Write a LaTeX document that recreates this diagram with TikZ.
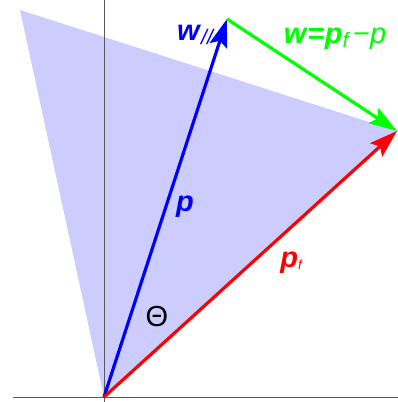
\documentclass[tikz,border=0pt]{standalone}
\usepackage{fontspec}
\setmainfont{Liberation Sans}
\usetikzlibrary{arrows.meta}
\definecolor{fillblue}{rgb}{0.8,0.8,1}
\definecolor{vgreen}{rgb}{0,1,0}
\tikzset{
  vec/.style={line width=3.2pt,-{Stealth[length=28pt,width=18pt,inset=5pt]}},
  lbl/.style={inner sep=0pt,font=\fontsize{29}{29}\selectfont},
}
\begin{document}
\begin{tikzpicture}[x=1pt,y=-1pt]
\useasboundingbox (0,0) rectangle (398,402);
\coordinate (O) at (104,397);
\coordinate (A) at (20,10);
\coordinate (B) at (397,131);
\coordinate (P) at (227,19);
\coordinate (yt) at (104,0);
\coordinate (yb) at (104,402);
\coordinate (xl) at (13,397);
\coordinate (xr) at (398,397);
\fill[fillblue] (O) -- (A) -- (B) -- cycle;
\draw[gray!70!black,line width=0.8pt] (yt) -- (yb);
\draw[gray!70!black,line width=0.8pt] (xl) -- (xr);
\draw[vec,blue] (O) -- (P);
\draw[vec,vgreen] (P) -- (B);
\draw[vec,red] (O) -- (B);
\node[lbl,text=blue] (lw) at (195,35) {\textbf{\textit{w}}\textit{\fontsize{21}{21}\selectfont\raisebox{-4pt}{//}}};
\node[lbl,text=vgreen] (lwe) at (335,39) {\textbf{\textit{w}=\textit{p}}\textit{\raisebox{-4pt}{\fontsize{21}{21}\selectfont f}}\,−\textit{p}};
\node[lbl,text=blue] (lp) at (185,207) {\textbf{\textit{p}}};
\node[lbl,text=red] (lpf) at (291,263) {\textbf{\textit{p}}\textit{\raisebox{-2pt}{\fontsize{13}{13}\selectfont f}}};
\node[lbl,text=black] (lt) at (157,317) {Θ};
\end{tikzpicture}
\end{document}
